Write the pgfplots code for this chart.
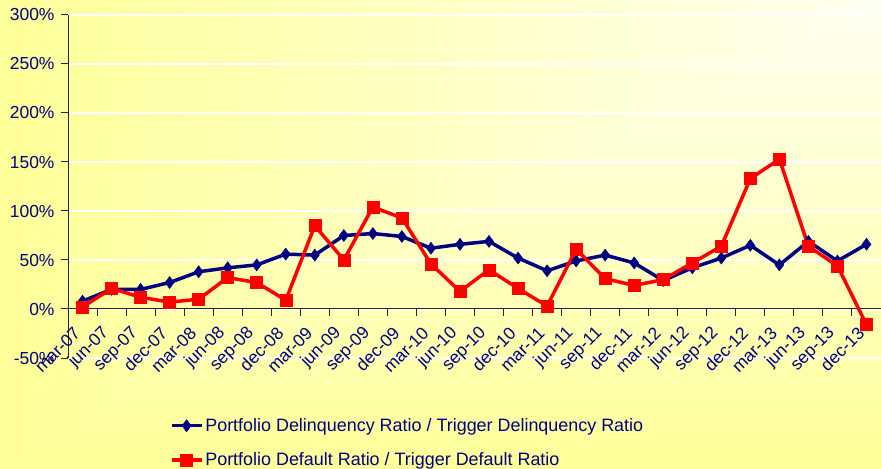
\documentclass[border=0pt]{standalone}
\usepackage{pgfplots}
\pgfplotsset{compat=1.18}
\usepackage{fontspec}
\setmainfont{Liberation Sans}
\definecolor{navyc}{RGB}{0,0,128}
\definecolor{bgyel}{RGB}{255,255,153}
\definecolor{bglight}{RGB}{255,255,242}
\begin{document}
\begin{tikzpicture}
\fill[bgyel] (0bp,0bp) rectangle (881bp,469bp);
\foreach \i in {80,79,...,1} {
  \pgfmathsetmacro\t{\i/80}
  \pgfmathsetmacro\p{100*\t}
  \pgfmathsetmacro\xa{881*(1-\t)}
  \pgfmathsetmacro\ya{469*(1-\t)}
  \fill[bgyel!\p!bglight] (\xa bp,\ya bp) rectangle (881bp,469bp);
}
\begin{axis}[
  at={(68bp,111bp)}, anchor=south west,
  scale only axis, width=813bp, height=343bp,
  xmin=-0.5, xmax=27.5, ymin=-50, ymax=300,
  axis x line*=middle, axis y line*=left,
  axis line style={black!85, line width=1bp},
  tick align=outside, major tick length=7bp,
  tick style={black!85, line width=1bp},
  xtick={0,1,...,27},
  major x tick style={draw=none},
  xticklabels={mar-07,jun-07,sep-07,dec-07,mar-08,jun-08,sep-08,dec-08,mar-09,jun-09,sep-09,dec-09,mar-10,jun-10,sep-10,dec-10,mar-11,jun-11,sep-11,dec-11,mar-12,jun-12,sep-12,dec-12,mar-13,jun-13,sep-13,dec-13},
  xticklabel style={xshift=-3bp, yshift=-12bp, rotate=45, anchor=east, font=\fontsize{17.5}{17.5}\selectfont, text=navyc},
  ytick={-50,0,50,100,150,200,250,300},
  yticklabels={-50\%,0\%,50\%,100\%,150\%,200\%,250\%,300\%},
  yticklabel style={font=\fontsize{17.5}{17.5}\selectfont, text=navyc, xshift=-3bp},
  ymajorgrids, major grid style={white, line width=1.2bp},
  legend style={at={(0.125,-0.17)}, anchor=north west, draw=none, fill=none,
    font=\fontsize{18}{18}\selectfont, text=navyc, row sep=16bp, inner sep=0pt},
  legend cell align=left,
  legend image code/.code={\draw[mark repeat=2,mark phase=2,#1] plot coordinates {(0bp,0bp) (15bp,0bp) (30bp,0bp)};},
]
\pgfplotsinvokeforeach{0,...,27}{\draw[black!85, line width=1bp] (axis cs:#1.5,0) -- ([yshift=-7bp]axis cs:#1.5,0);}
\addplot[color=navyc, line width=3.5bp, mark=diamond*, mark size=6bp, mark options={solid, line width=0.5bp, fill=navyc}] coordinates {
(0,8) (1,20) (2,20) (3,27) (4,38) (5,42) (6,45) (7,56) (8,55) (9,75) (10,77) (11,74) (12,62) (13,66) (14,69) (15,52) (16,39) (17,49) (18,55) (19,47) (20,29) (21,42) (22,52) (23,65) (24,45) (25,69) (26,49) (27,66)};
\addlegendentry{Portfolio Delinquency Ratio / Trigger Delinquency Ratio}
\addplot[color=red, line width=3.5bp, mark=square*, mark size=6bp, mark options={solid, line width=0.5bp, fill=red}] coordinates {
(0,2) (1,21) (2,12) (3,7) (4,10) (5,32) (6,27) (7,9) (8,85) (9,50) (10,104) (11,93) (12,46) (13,18) (14,40) (15,21) (16,3) (17,61) (18,31) (19,24) (20,30) (21,47) (22,64) (23,133) (24,153) (25,64) (26,44) (27,-16)};
\addlegendentry{Portfolio Default Ratio / Trigger Default Ratio}
\end{axis}
\pgfresetboundingbox
\path (0bp,0bp) rectangle (881bp,469bp);
\end{tikzpicture}
\end{document}
